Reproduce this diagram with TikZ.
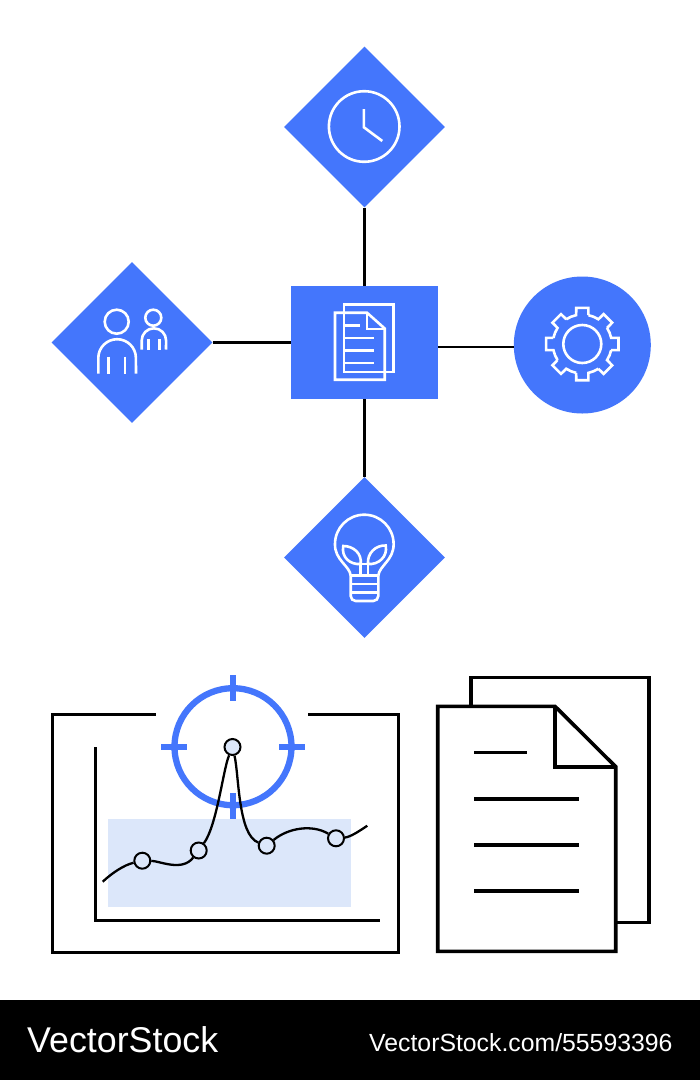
\documentclass[tikz,border=0pt]{standalone}
\usepackage{fontspec}
\setmainfont{Liberation Sans}
\usepackage{tikz}
\usetikzlibrary{shapes.geometric}
\definecolor{bluefill}{HTML}{4476FC}
\definecolor{paleblue}{HTML}{DCE7FA}

\begin{document}
\begin{tikzpicture}[x=1pt,y=-1pt,
	bluediamond/.style={diamond,fill=bluefill,inner sep=0pt,minimum width=161pt,minimum height=161pt},
	bluebox/.style={rectangle,fill=bluefill,inner sep=0pt,minimum width=147pt,minimum height=113pt},
	bluecircle/.style={circle,fill=bluefill,inner sep=0pt,minimum size=137pt},
	link/.style={draw=black,line width=2.8pt},
	iconline/.style={draw=white,line width=2.6pt},
	heavyline/.style={draw=black,line width=3.6pt},
	framedraw/.style={draw=black,line width=3.2pt},
	axisline/.style={draw=black,line width=2.8pt},
	targetline/.style={draw=bluefill,line width=6.3pt},
	datapoint/.style={circle,draw=black,fill=paleblue,line width=2pt,inner sep=0pt,minimum size=16pt},
	curveline/.style={draw=black,line width=2.3pt},
	footertext/.style={text=white,inner sep=0pt,anchor=base west}]
	
	\useasboundingbox (0,0) rectangle (700,1080);
	\fill[white] (0,0) rectangle (700,1080);
	\fill[black] (0,1000) rectangle (700,1080);
	
	\node[bluediamond] (clock) at (364.5,127) {};
	\node[bluediamond] (people) at (132,342.5) {};
	\node[bluediamond] (bulb) at (364.5,557.5) {};
	\node[bluebox] (doc) at (364.5,342.5) {};
	\node[bluecircle] (gear) at (582.3,345) {};
	
	\draw[link] (clock) -- (doc);
	\draw[link] (people) -- (doc);
	\draw[link] (bulb) -- (doc);
	\draw[link] ([yshift=-4.5pt]doc.east) -- ([yshift=-2pt]gear.west);
	
	\draw[iconline] (364.2,126.5) circle[radius=35.3pt];
	\draw[iconline] (363.9,109) -- (363.9,127.3) -- (382.3,141);
	
	\draw[iconline] (116.7,321.7) circle[radius=12pt];
	\draw[iconline] (98.3,373.5) -- (98.3,358) arc[start angle=180,end angle=0,radius=18.8pt] -- (136,373.5);
	\draw[iconline] (108.3,356.7) -- (108.3,373.5);
	\draw[iconline] (125,356.7) -- (125,373.5);
	\draw[iconline] (153.3,317.7) circle[radius=8pt];
	\draw[iconline] (141.7,349.5) -- (141.7,340.5) arc[start angle=180,end angle=0,radius=12.2pt] -- (166,349.5);
	\draw[iconline] (148.3,339) -- (148.3,349.5);
	\draw[iconline] (159.5,339) -- (159.5,349.5);
	
	\draw[iconline] (344,304.7) rectangle (393.7,372);
	\draw[iconline] (335,312.7) -- (367,312.7) -- (384.7,328.5) -- (384.7,379.7) -- (335,379.7) -- cycle;
	\draw[iconline] (367,312.7) -- (367,329) -- (384.7,329);
	\draw[iconline] (344,325.3) -- (360,325.3);
	\foreach \liney in {338,350.3,363}{
		\draw[iconline] (344,\liney) -- (374,\liney);
	}
	
	\draw[iconline] (582.3,344) circle[radius=19pt];
	\begin{scope}[shift={(582.3,344)}]
		\foreach \a in {0,45,...,315}{
			\draw[iconline,line join=miter] (\a-12:29.5pt) -- (\a-9.5:36.7pt) -- (\a+9.5:36.7pt) -- (\a+12:29.5pt) arc[start angle=\a+12,end angle=\a+33,radius=29.5pt];
		}
	\end{scope}
	
	\draw[iconline] (350.7,575.7) .. controls (350,566) and (334.5,560) .. (335,544) arc[start angle=180,end angle=0,radius=29.3pt] .. controls (394,560) and (379,566) .. (378.3,575.7);
	\draw[iconline,rounded corners=5pt] (350.7,575.7) -- (350.7,601) -- (378.3,601) -- (378.3,575.7);
	\draw[iconline] (350.7,575.7) -- (378.3,575.7);
	\draw[iconline] (350.7,584) -- (378.3,584);
	\draw[iconline] (350.7,592.3) -- (378.3,592.3);
	\draw[iconline] (360.7,575.7) -- (360.7,564) -- (368,564) -- (368,575.7);
	\draw[iconline] (360.7,564) .. controls (362,553) and (353,546) .. (343.3,546) .. controls (341,557) and (350,565) .. (360.7,564);
	\draw[iconline] (368,564) .. controls (367,553) and (376,545) .. (385.7,545.5) .. controls (388,557) and (378,565) .. (368,564);
	
	\draw[framedraw] (155.7,714.3) -- (52.3,714.3) -- (52.3,952.3) -- (398.3,952.3) -- (398.3,714.3) -- (308,714.3);
	\draw[axisline] (95.3,747.3) -- (95.3,920.5) -- (380,920.5);
	\fill[paleblue] (108.3,819) rectangle (351,907);
	
	\draw[targetline] (233,746.7) circle[radius=58.5pt];
	\draw[targetline] (233,675.3) -- (233,700.7);
	\draw[targetline] (233,793.3) -- (233,818.7);
	\draw[targetline] (161,746.7) -- (186.7,746.7);
	\draw[targetline] (279.3,746.7) -- (304.7,746.7);
	
	\coordinate (curvestart) at (102.7,881.7);
	\coordinate (curveend) at (367.3,825.7);
	\node[datapoint] (pointa) at (142.3,860.7) {};
	\node[datapoint] (pointb) at (198.7,850.5) {};
	\node[datapoint] (pointc) at (232.5,747) {};
	\node[datapoint] (pointd) at (266.7,845.7) {};
	\node[datapoint] (pointe) at (336,838.3) {};
	\draw[curveline] (curvestart) .. controls (112,873) and (124,865) .. (pointa);
	\draw[curveline] (pointa) .. controls (160,861) and (182,872) .. (pointb);
	\draw[curveline] (pointb) .. controls (217,825) and (223,770) .. (pointc);
	\draw[curveline] (pointc) .. controls (239,775) and (238,835) .. (pointd);
	\draw[curveline] (pointd) .. controls (288,828) and (312,824) .. (pointe);
	\draw[curveline] (pointe) .. controls (350,837) and (358,832) .. (curveend);
	
	\draw[heavyline] (470.7,706) -- (470.7,677.3) -- (648.7,677.3) -- (648.7,922.3) -- (616,922.3);
	\draw[heavyline,line join=miter] (437.7,706.3) -- (555,706.3) -- (615.7,766.7) -- (615.7,951.3) -- (437.7,951.3) -- cycle;
	\draw[heavyline] (555,706.3) -- (555,766.7) -- (615.7,766.7);
	\draw[heavyline] (474.3,752.3) -- (526.7,752.3);
	\foreach \liney in {798.7,845,891}{
		\draw[heavyline] (474.3,\liney) -- (579.3,\liney);
	}
	
	\node[footertext,font=\fontsize{35.8pt}{40pt}\selectfont] (brand) at (27,1052.5) {VectorStock};
	\node[footertext,font=\fontsize{24.8pt}{28pt}\selectfont] (stockid) at (369,1051.5) {VectorStock.com/55593396};
\end{tikzpicture}
\end{document}
